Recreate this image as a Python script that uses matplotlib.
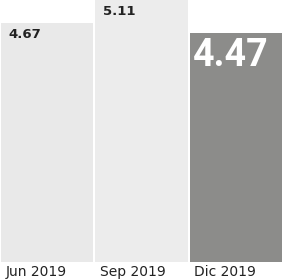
import matplotlib
matplotlib.use("Agg")
import matplotlib.pyplot as plt

categories = ["Jun 2019", "Sep 2019", "Dic 2019"]
values = [4.67, 5.11, 4.47]
value_labels = ["4.67", "5.11", "4.47"]
colors = ["#e9e9e9", "#ececec", "#8c8c8a"]

fig = plt.figure(figsize=(2.83, 2.79), dpi=100)
ax = fig.add_axes([0, 0.061, 1, 0.939])
x = list(range(len(categories)))
bars = ax.bar(x, values, width=0.98, color=colors, align="center")
ax.set_xlim(-0.5, 2.5)
ax.set_ylim(0, 5.11)
ax.axis("off")

for i, (v, lab) in enumerate(zip(values, value_labels)):
    left = i - 0.49
    if i < 2:
        ax.text(left + 0.08, v - 0.1, lab, ha="left", va="top", fontsize=9.5,
                fontweight="bold", color="#222222")
    else:
        ax.text(left + 0.04, v - 0.08, lab, ha="left", va="top", fontsize=27,
                fontweight="bold", color="white", family="Roboto")

for i, c in enumerate(categories):
    fig.text((i - 0.49 + 0.5) / 3 + 0.015, 0.05, c, ha="left", va="top",
             fontsize=10, color="#222222")

fig.savefig("out.png", dpi=100, facecolor="white")
